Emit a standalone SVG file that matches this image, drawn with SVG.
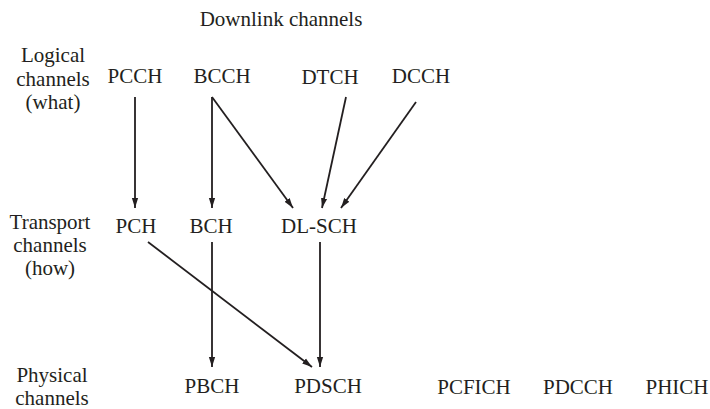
<svg xmlns="http://www.w3.org/2000/svg" width="710" height="409" viewBox="0 0 710 409">
<style>
text{font-family:"Liberation Serif","Times New Roman",serif;font-size:21px;fill:#231f20;text-anchor:middle}
.c{stroke:#231f20;stroke-width:1.8;fill:none;marker-end:url(#ah)}
</style>
<defs>
<marker id="ah" markerUnits="userSpaceOnUse" markerWidth="10" markerHeight="8" viewBox="0 0 10 8" refX="10" refY="4" orient="auto">
<path d="M0,0.9 L10,4 L0,7.1 Z" fill="#231f20"/>
</marker>
</defs>
<rect width="710" height="409" fill="#fff"/>
<g id="title"><text x="281" y="26">Downlink channels</text></g>
<g id="row-logical"><text x="53" y="62">Logical</text><text x="53" y="86">channels</text><text x="53" y="109">(what)</text></g>
<g id="row-transport"><text x="50" y="229">Transport</text><text x="50" y="252">channels</text><text x="50" y="275">(how)</text></g>
<g id="row-physical"><text x="52" y="382">Physical</text><text x="52" y="405">channels</text></g>
<g id="PCCH"><text x="135" y="83">PCCH</text></g>
<g id="BCCH"><text x="222" y="83">BCCH</text></g>
<g id="DTCH"><text x="330" y="84">DTCH</text></g>
<g id="DCCH"><text x="421" y="83">DCCH</text></g>
<g id="PCH"><text x="136" y="233">PCH</text></g>
<g id="BCH"><text x="211" y="233">BCH</text></g>
<g id="DL-SCH"><text x="319" y="233">DL-SCH</text></g>
<g id="PBCH"><text x="212" y="393">PBCH</text></g>
<g id="PDSCH"><text x="328" y="393">PDSCH</text></g>
<g id="PCFICH"><text x="474" y="394">PCFICH</text></g>
<g id="PDCCH"><text x="578" y="394">PDCCH</text></g>
<g id="PHICH"><text x="677" y="394">PHICH</text></g>
<g id="connectors">
<line class="c" x1="135" y1="97" x2="135" y2="208"/>
<line class="c" x1="212" y1="97" x2="212" y2="208"/>
<line class="c" x1="212" y1="97" x2="293" y2="208"/>
<line class="c" x1="346" y1="97" x2="322" y2="208"/>
<line class="c" x1="416" y1="102" x2="341" y2="208"/>
<line class="c" x1="148" y1="242" x2="312" y2="367"/>
<line class="c" x1="212" y1="242" x2="212" y2="367"/>
<line class="c" x1="320" y1="242" x2="320" y2="367"/>
</g>
</svg>
